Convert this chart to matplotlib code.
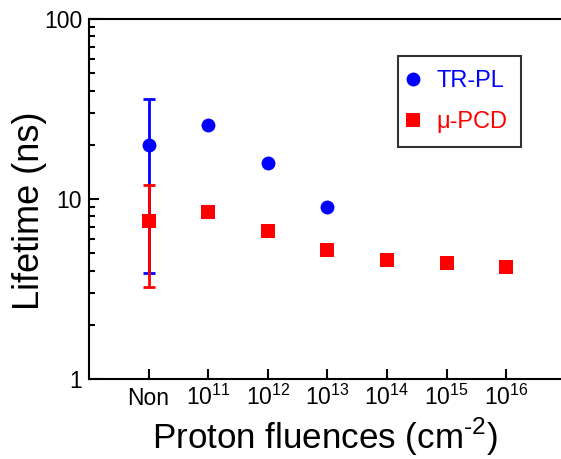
import numpy as np
import matplotlib
matplotlib.use("Agg")
import matplotlib.pyplot as plt
from matplotlib.lines import Line2D

plt.rcParams['font.family'] = ['Liberation Sans', 'DejaVu Sans']
plt.rcParams['mathtext.fontset'] = 'custom'
plt.rcParams['mathtext.rm'] = 'Liberation Sans'

# data
categories = ['Non', '10$^{11}$', '10$^{12}$', '10$^{13}$', '10$^{14}$', '10$^{15}$', '10$^{16}$']
trpl = [20, 25.8, 15.8, 9.0]
trpl_err_lo = [3.9]   # lower end of Non error bar
trpl_err_hi = [36]    # upper end of Non error bar
pcd = [7.5, 8.5, 6.6, 5.2, 4.6, 4.4, 4.2]
pcd_err_lo = [3.25]
pcd_err_hi = [12]

fig = plt.figure(figsize=(5.61, 4.59), dpi=100)
ax = fig.add_axes([89/561, 1 - 379/459, 481/561, 360/459])

x = np.arange(len(categories))

# error bars on the unirradiated sample
ax.errorbar(x[0], trpl[0], yerr=[[trpl[0] - trpl_err_lo[0]], [trpl_err_hi[0] - trpl[0]]],
            fmt='none', ecolor='blue', elinewidth=2, capsize=4, capthick=2, zorder=2)
ax.errorbar(x[0], pcd[0], yerr=[[pcd[0] - pcd_err_lo[0]], [pcd_err_hi[0] - pcd[0]]],
            fmt='none', ecolor='red', elinewidth=2, capsize=4, capthick=2, zorder=3)

ax.plot(x[:len(trpl)], trpl, 'o', color='blue', markersize=10, markeredgewidth=0, zorder=4)
ax.plot(x, pcd, 's', color='red', markersize=9.5, markeredgewidth=0, zorder=4)

ax.set_yscale('log')
ax.set_ylim(1, 100)
ax.set_xlim(-1, -1 + 481/59.6)
ax.set_xticks(x)
ax.set_xticklabels(categories)
ax.set_yticks([1, 10, 100])
ax.set_yticklabels(['1', '10', '100'])

ax.tick_params(axis='both', which='major', direction='in', length=7, width=1.5, labelsize=16.5)
ax.tick_params(axis='y', pad=5)
ax.tick_params(axis='x', pad=18.5)
ax.tick_params(axis='y', which='minor', direction='in', length=4, width=1.5)
ax.tick_params(axis='x', which='minor', bottom=False)
for lab in ax.get_xticklabels():
    lab.set_va('baseline')
for s in ax.spines.values():
    s.set_linewidth(1.5)
ax.spines['right'].set_visible(False)

ax.set_xlabel('Proton fluences (cm$^{\\text{-2}}$)', fontsize=25.2, va='baseline')
ax.xaxis.set_label_coords(325/561, 1 - 449/459, transform=fig.transFigure)
ax.set_ylabel('Lifetime (ns)', fontsize=26, va='center')
ax.yaxis.set_label_coords(30/561, 1 - 211/459, transform=fig.transFigure)

handles = [Line2D([], [], ls='none', marker='o', color='blue', markersize=10, markeredgewidth=0),
           Line2D([], [], ls='none', marker='s', color='red', markersize=9.5, markeredgewidth=0)]
leg = ax.legend(handles, ['TR-PL', 'μ-PCD'], loc='upper left',
                bbox_to_anchor=(398/561, 1 - 56/459), bbox_transform=fig.transFigure,
                borderaxespad=0, fontsize=17, labelcolor=['blue', 'red'], frameon=True,
                fancybox=False, edgecolor='black', handletextpad=0.97, labelspacing=0.8,
                borderpad=0.6, handlelength=0.05)
leg.get_frame().set_linewidth(1.5)

fig.savefig('out.png', dpi=100)
